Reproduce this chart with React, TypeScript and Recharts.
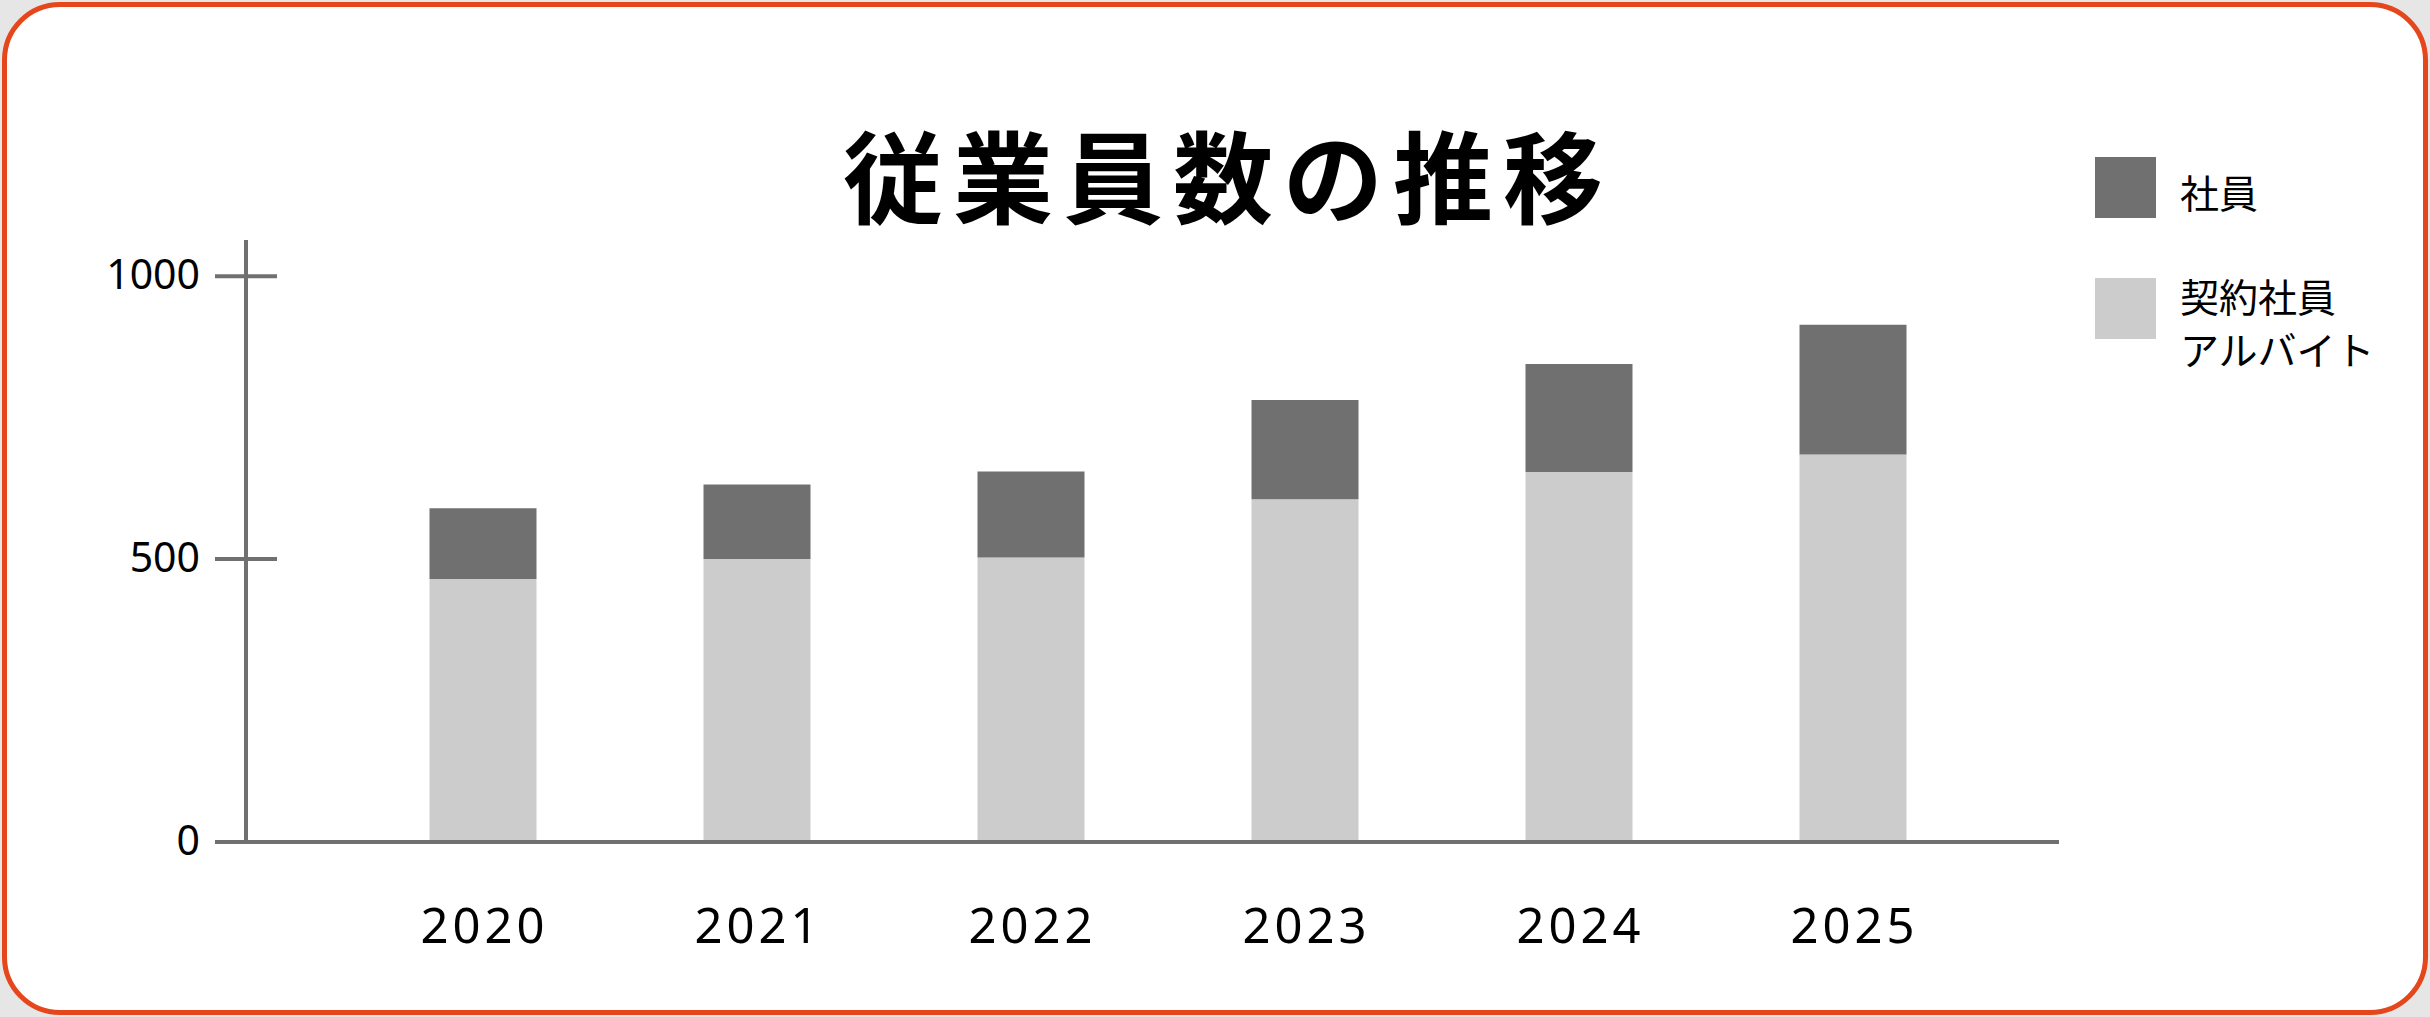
import React from 'react';
import { Bar, BarChart, XAxis, YAxis } from 'recharts';

const years = ['2020', '2021', '2022', '2023', '2024', '2025'];
const contractStaff = [465, 500, 503, 606, 654, 685];
const regularStaff = [125, 132, 152, 175, 191, 229];
const yTicks = [0, 500, 1000];

const seriesLabels = {
  regular: '社員',
  contract: ['契約社員', 'アルバイト'],
};

const DARK = '#707070';
const LIGHT = '#cccccc';
const AXIS = '#707070';
const JP_FONT = '"Noto Sans CJK JP", "Noto Sans", sans-serif';
const NUM_FONT = '"Noto Sans", "Open Sans", sans-serif';

const data = years.map((year, i) => ({
  year,
  contract: contractStaff[i],
  regular: regularStaff[i],
}));

function YTick(props: any) {
  const { x, y, payload } = props;
  return (
    <g>
      <line x1={x - 31} x2={x + 31} y1={y} y2={y} stroke={AXIS} strokeWidth={4} />
      <text
        x={x - 46}
        y={y}
        dy={13}
        textAnchor="end"
        fontFamily={NUM_FONT}
        fontSize={41}
        fill="#000"
      >
        {payload.value}
      </text>
    </g>
  );
}

function XTick(props: any) {
  const { x, y, payload } = props;
  return (
    <text
      x={x + 2}
      y={y + 101}
      textAnchor="middle"
      fontFamily={NUM_FONT}
      fontSize={49}
      letterSpacing={4}
      fill="#000"
    >
      {payload.value}
    </text>
  );
}

function LegendBox() {
  const labelStyle: React.CSSProperties = {
    fontFamily: JP_FONT,
    fontSize: 39,
    lineHeight: '53px',
    color: '#000',
  };
  return (
    <div style={{ position: 'absolute', left: 2095, top: 157, width: 300, height: 240 }}>
      <div style={{ position: 'absolute', left: 0, top: 0, width: 61, height: 61, background: DARK }} />
      <div style={{ ...labelStyle, position: 'absolute', left: 85, top: 8 }}>{seriesLabels.regular}</div>
      <div style={{ position: 'absolute', left: 0, top: 121, width: 61, height: 61, background: LIGHT }} />
      <div style={{ ...labelStyle, position: 'absolute', left: 85, top: 112 }}>
        {seriesLabels.contract.map((line) => (
          <div key={line}>{line}</div>
        ))}
      </div>
    </div>
  );
}

export default function App() {
  return (
    <div
      style={{
        position: 'absolute',
        left: 0,
        top: 0,
        width: 2430,
        height: 1017,
        background: '#e6e6e6',
      }}
    >
      <div
        style={{
          position: 'absolute',
          left: 2,
          top: 2,
          width: 2426,
          height: 1013,
          boxSizing: 'border-box',
          border: '5px solid #e5461b',
          borderRadius: 58,
          background: '#fff',
        }}
      />
      <div
        style={{
          position: 'absolute',
          left: 728,
          width: 1000,
          top: 108,
          textAlign: 'center',
          fontFamily: JP_FONT,
          fontWeight: 700,
          fontSize: 100,
          lineHeight: '130px',
          letterSpacing: 10,
          color: '#000',
        }}
      >
        従業員数の推移
      </div>
      <div style={{ position: 'absolute', left: 0, top: 0 }}>
        <BarChart
          width={2430}
          height={1017}
          data={data}
          margin={{ top: 240, right: 371, bottom: 115, left: 146 }}
        >
          <XAxis
            dataKey="year"
            height={60}
            padding={{ left: 99.5, right: 69.5 }}
            axisLine={{ stroke: AXIS, strokeWidth: 4 }}
            tickLine={false}
            tickSize={0}
            tickMargin={0}
            tick={<XTick />}
            interval={0}
          />
          <YAxis
            width={100}
            domain={[0, 1064]}
            ticks={yTicks}
            allowDataOverflow
            axisLine={{ stroke: AXIS, strokeWidth: 4 }}
            tickLine={false}
            tickSize={0}
            tickMargin={0}
            tick={<YTick />}
            interval={0}
          />
          <Bar dataKey="contract" stackId="staff" fill={LIGHT} barSize={107} isAnimationActive={false} />
          <Bar dataKey="regular" stackId="staff" fill={DARK} barSize={107} isAnimationActive={false} />
        </BarChart>
      </div>
      <LegendBox />
    </div>
  );
}
